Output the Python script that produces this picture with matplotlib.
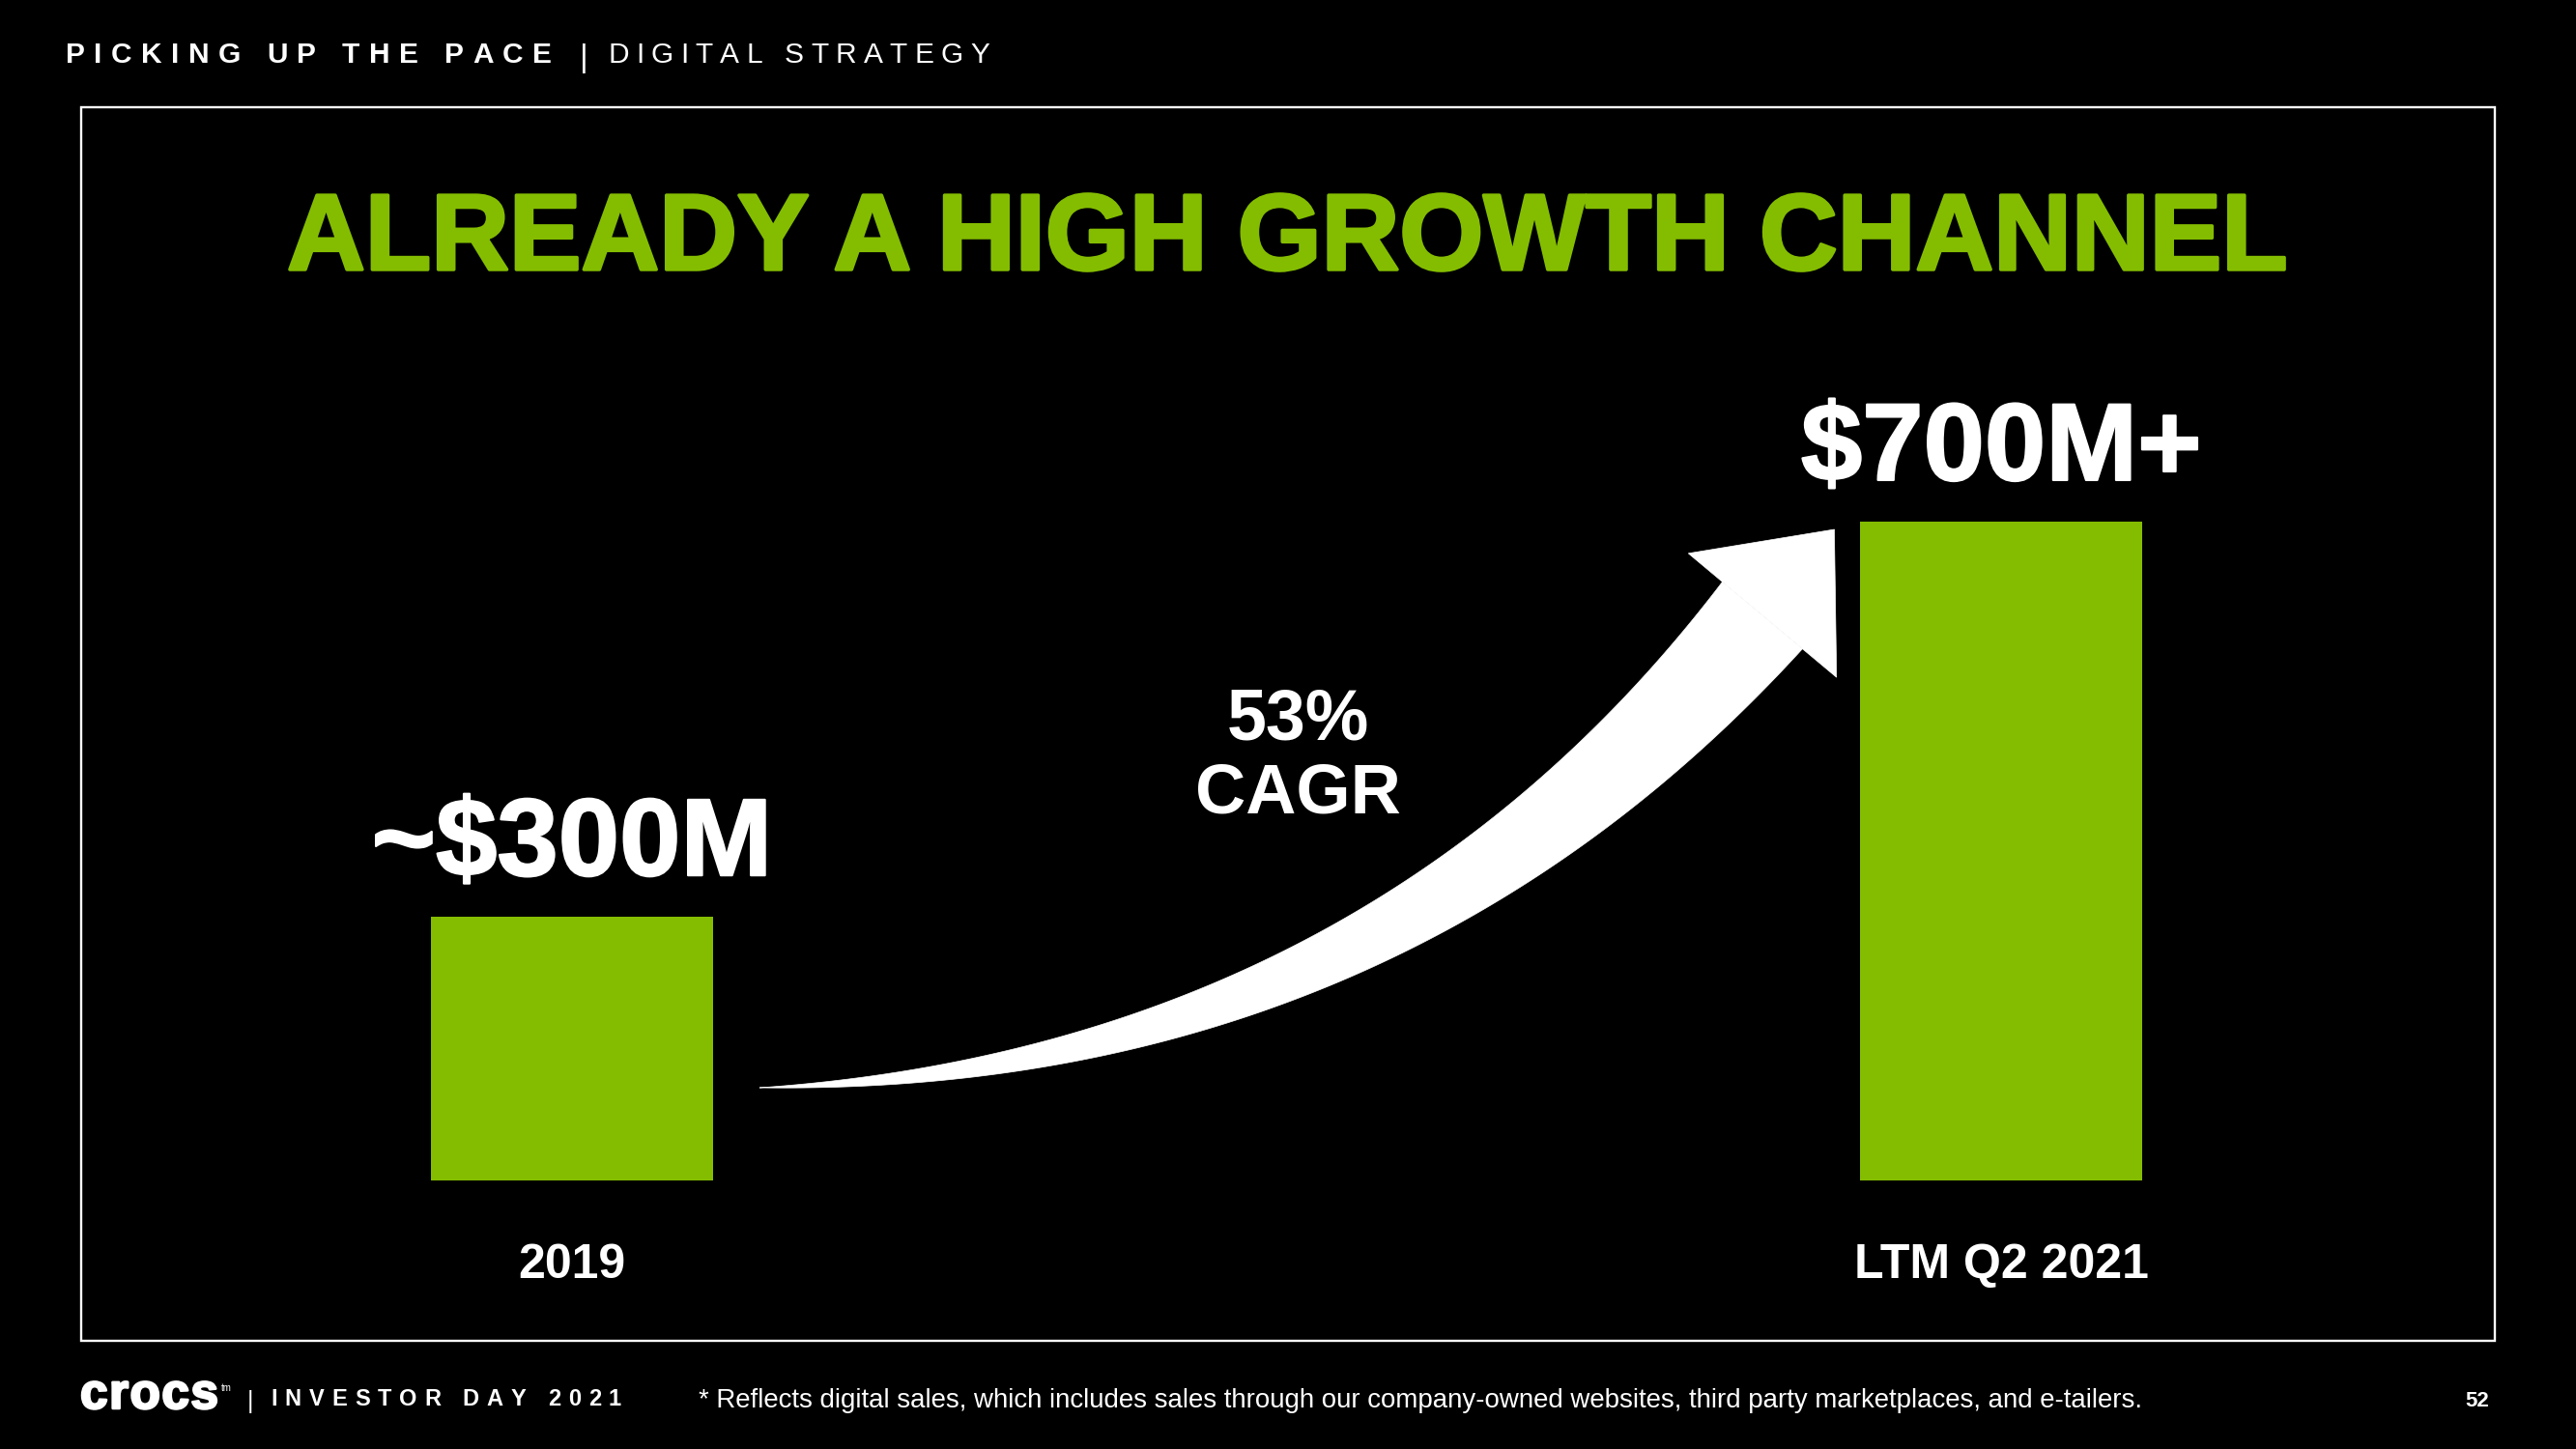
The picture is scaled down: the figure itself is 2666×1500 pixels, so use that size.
import matplotlib
matplotlib.use('Agg')
import matplotlib.pyplot as plt
import matplotlib.patheffects as pe
from matplotlib.textpath import TextToPath
from matplotlib.font_manager import FontProperties
from matplotlib.patches import Polygon, Rectangle
import numpy as np

# chart data
categories = ['2019', 'LTM Q2 2021']
values = [300, 750]
value_labels = ['~$300M', '$700M+']
cagr_pct = '53%'
cagr_text = 'CAGR'

title = 'ALREADY A HIGH GROWTH CHANNEL'
section = 'PICKING UP THE PACE'
subsection = 'DIGITAL STRATEGY'
event = 'INVESTOR DAY 2021'
footnote = ('* Reflects digital sales, which includes sales through our company-owned '
            'websites, third party marketplaces, and e-tailers.')
page = '52'

W, H = 2666, 1500
DPI = 100
PX = 72 / DPI          # points per pixel
GREEN = '#84BD00'
FONT = 'Liberation Sans'

fig = plt.figure(figsize=(W / DPI, H / DPI), dpi=DPI, facecolor='black')

# background layer in pixel coordinates (y down) for the slide decoration
bg = fig.add_axes([0, 0, 1, 1])
bg.set_xlim(0, W)
bg.set_ylim(H, 0)
bg.axis('off')
bg.set_facecolor('black')

t2p = TextToPath()


def text_w(s, size, weight='normal'):
    prop = FontProperties(family=FONT, weight=weight, size=size)
    w, h, d = t2p.get_text_width_height_descent(s, prop, ismath=False)
    return w / PX


def tracked(x0, x1, y, s, size, weight='normal', color='white', **kw):
    # letter-spaced text stretched between x0 and x1
    widths = [text_w(c, size, weight) for c in s]
    gap = (x1 - x0 - sum(widths)) / (len(s) - 1)
    x = x0
    for c, w in zip(s, widths):
        bg.text(x, y, c, ha='left', va='baseline', fontsize=size, fontweight=weight,
                family=FONT, color=color, **kw)
        x += w + gap


# header
tracked(68, 571, 65, section, 21.5, 'bold')
bg.text(604, 69, '|', ha='center', va='baseline', fontsize=24, family=FONT, color='white')
tracked(629, 1024, 65, subsection, 21.5, 'normal')

# frame
bg.add_patch(Rectangle((84, 111), 2582 - 84, 1388 - 111, fill=False, ec='white', lw=1.7))

# title
bg.text(1332, 279, title, ha='center', va='baseline', fontsize=80.5, fontweight='bold',
        family=FONT, color=GREEN,
        path_effects=[pe.withStroke(linewidth=2.5, foreground=GREEN)])

# curved growth arrow
P0 = np.array([786.0, 1126.0])
P1 = np.array([1430.0, 1108.0])
P2 = np.array([1824.0, 637.0])
t = np.linspace(0, 1, 200)[:, None]
B = (1 - t) ** 2 * P0 + 2 * (1 - t) * t * P1 + t ** 2 * P2
dB = 2 * (1 - t) * (P1 - P0) + 2 * t * (P2 - P1)
dB = dB / np.linalg.norm(dB, axis=1)[:, None]
nrm = np.column_stack([-dB[:, 1], dB[:, 0]])
wid = 108 * t[:, 0]
upper = B + nrm * wid[:, None] / 2
lower = B - nrm * wid[:, None] / 2
body = np.vstack([upper, lower[::-1]])
bg.add_patch(Polygon(body, closed=True, fc='white', ec='white', lw=0.5))
d = dB[-1]
p = np.array([-d[1], d[0]])
head = np.array([P2 + 116 * d, P2 + 100 * p, P2 - 100 * p])
bg.add_patch(Polygon(head, closed=True, fc='white', ec='white', lw=0.5))

bg.text(1343, 765, cagr_pct, ha='center', va='baseline', fontsize=53, fontweight='bold',
        family=FONT, color='white')
bg.text(1343, 841, cagr_text, ha='center', va='baseline', fontsize=52, fontweight='bold',
        family=FONT, color='white')

# footer
tracked(83, 226, 1458, 'crocs', 37, 'bold',
        path_effects=[pe.withStroke(linewidth=1.8, foreground='white')])
bg.text(229, 1432, 'tm', ha='left', va='top', fontsize=7, family=FONT, color='white')
bg.text(259, 1458, '|', ha='center', va='baseline', fontsize=18, family=FONT, color='white')
tracked(280, 643, 1455, event, 17, 'bold')
fsz = 20 * 1496 / text_w(footnote, 20)
bg.text(723, 1457, footnote, ha='left', va='baseline', fontsize=fsz, family=FONT, color='white')
bg.text(2564, 1456, page, ha='center', va='baseline', fontsize=16, fontweight='bold',
        family=FONT, color='white')

# bars
ax = fig.add_axes([296 / W, (H - 1222) / H, 2071 / W, 682 / H])
ax.patch.set_alpha(0)
x = np.arange(len(categories))
ax.bar(x, values, width=0.197, color=GREEN)
ax.set_xlim(-0.2, 1.2)
ax.set_ylim(0, 750)
ax.axis('off')

for i in range(len(categories)):
    ax.annotate(value_labels[i], (x[i], values[i]), xytext=(0, 43 * PX), textcoords='offset points',
                ha='center', va='baseline', fontsize=82, fontweight='bold', family=FONT,
                color='white', annotation_clip=False,
                path_effects=[pe.withStroke(linewidth=1.5, foreground='white')])
    ax.annotate(categories[i], (x[i], 0), xytext=(0, -101 * PX), textcoords='offset points',
                ha='center', va='baseline', fontsize=36, fontweight='bold', family=FONT,
                color='white', annotation_clip=False)

fig.savefig('out.png', dpi=DPI, facecolor='black')
